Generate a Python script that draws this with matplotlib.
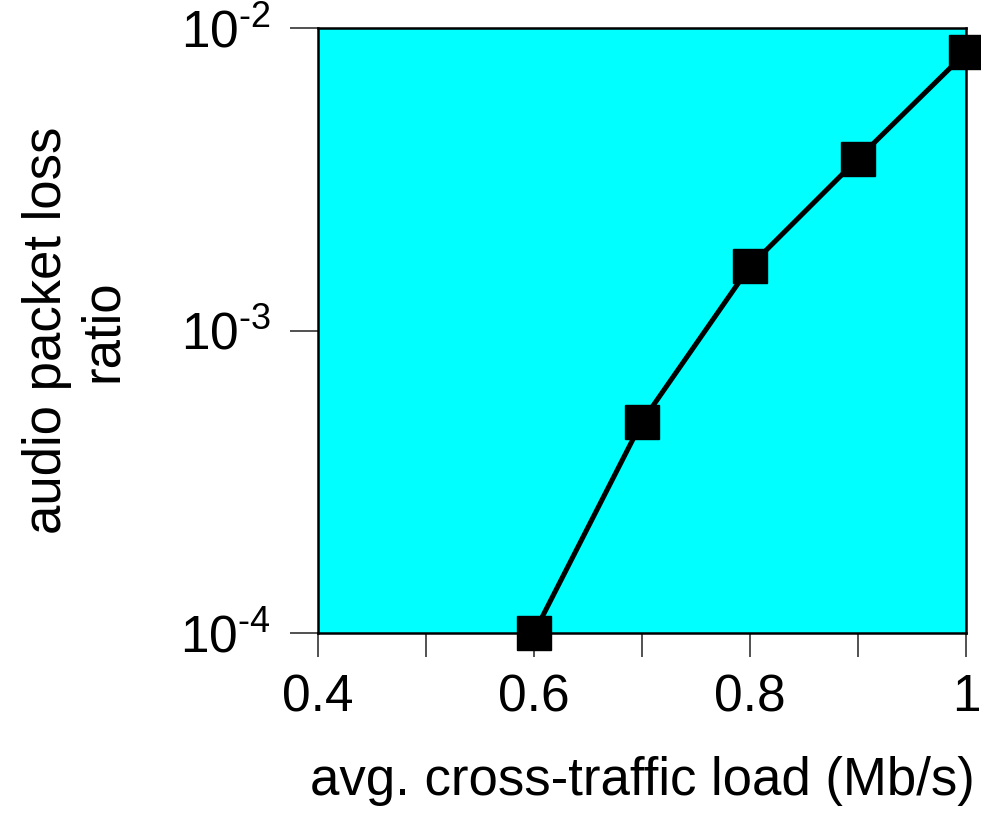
import matplotlib
matplotlib.use("Agg")
import matplotlib.pyplot as plt

plt.rcParams['font.family'] = ['Liberation Sans', 'DejaVu Sans']
plt.rcParams['mathtext.fontset'] = 'custom'
plt.rcParams['mathtext.rm'] = 'Liberation Sans'
plt.rcParams['mathtext.it'] = 'Liberation Sans'
plt.rcParams['axes.unicode_minus'] = False

load = [0.6, 0.7, 0.8, 0.9, 1.0]
loss = [1.0e-4, 5.0e-4, 1.63e-3, 3.7e-3, 8.3e-3]
xticks = [0.4, 0.5, 0.6, 0.7, 0.8, 0.9, 1.0]
xticklabels = ['0.4', '', '0.6', '', '0.8', '', '1']
yticks = [1e-4, 1e-3, 1e-2]
yticklabels = ['10$^{\\text{-4}}$', '10$^{\\text{-3}}$', '10$^{\\text{-2}}$']

fig = plt.figure(figsize=(9.81, 8.14), dpi=100)
ax = fig.add_axes([318/981, 1-633/814, (966-318)/981, (633-28)/814])
ax.set_facecolor('#00FFFF')
ax.plot(load, loss, color='black', lw=3.6, marker='s', ms=24, mfc='black', mec='black', clip_on=False, zorder=3)
ax.set_yscale('log')
ax.set_xlim(0.4, 1.0)
ax.set_ylim(1e-4, 1e-2)
ax.set_xticks(xticks)
ax.set_xticklabels(xticklabels, fontsize=37)
ax.set_yticks(yticks)
ax.set_yticklabels(yticklabels, fontsize=37)
ax.minorticks_off()
ax.tick_params(axis='x', direction='out', length=17, width=1.2, pad=12, color='#333333')
ax.tick_params(axis='y', direction='out', length=20, width=1.2, pad=14, color='#333333')
for s in ax.spines.values():
    s.set_linewidth(1.8)
    s.set_color('black')
ax.set_xlabel('avg. cross-traffic load (Mb/s)', fontsize=38, labelpad=24)
ax.set_ylabel('audio packet loss\nratio', fontsize=38, labelpad=38, linespacing=1.15)
fig.savefig('out.png', dpi=100)
